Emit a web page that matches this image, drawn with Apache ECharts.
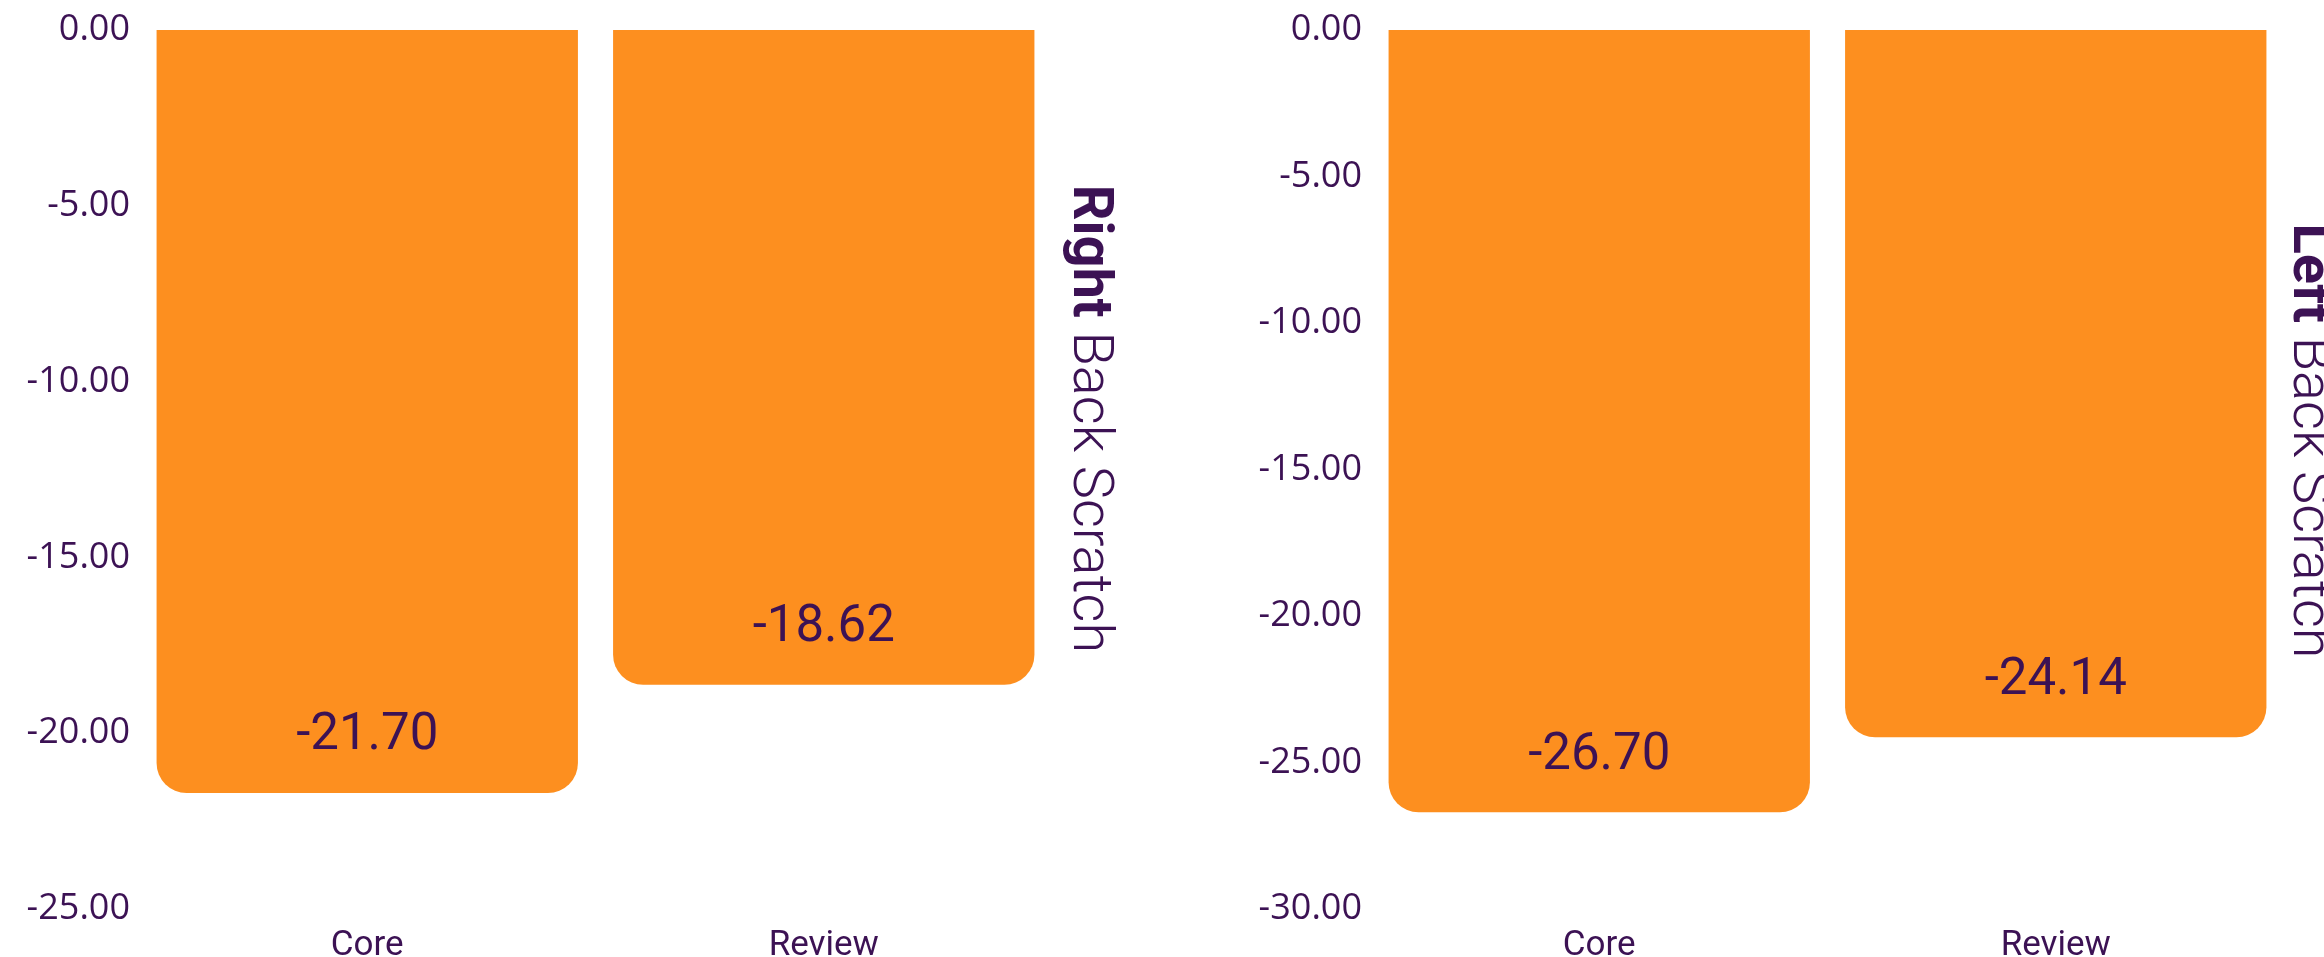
<!DOCTYPE html>
<html>
<head>
<meta charset="utf-8">
<script src="https://cdn.jsdelivr.net/npm/echarts@6/dist/echarts.min.js"></script>
<style>
  html, body { margin: 0; padding: 0; background: #fff; }
  #chart { width: 2324px; height: 957px; }
</style>
</head>
<body>
<div id="chart"></div>
<script>
// data
const categories = ['Core', 'Review'];
const rightBackValues = [-21.70, -18.62];
const leftBackValues = [-26.70, -24.14];
const rightAxisMin = -25;
const leftAxisMin = -30;
const titles = [['Right', 'Back Scratch'], ['Left', 'Back Scratch']];

const purple = '#3c1254';
const orange = '#fd8f1f';

let chart = echarts.init(document.getElementById('chart'));

function yAxis(gridIndex, min) {
  return {
    type: 'value',
    gridIndex,
    min,
    max: 0,
    interval: 5,
    axisLine: { show: false },
    axisTick: { show: false },
    splitLine: { show: false },
    axisLabel: {
      color: purple,
      fontFamily: 'Open Sans',
      fontSize: 36,
      margin: 9,
      formatter: (v) => v.toFixed(2),
    },
  };
}

function xAxis(gridIndex) {
  return {
    type: 'category',
    gridIndex,
    data: categories,
    axisLine: { show: false, onZero: false },
    axisTick: { show: false },
    axisLabel: {
      color: purple,
      fontFamily: 'Roboto',
      fontSize: 35,
      margin: 20,
    },
  };
}

function barSeries(index, data) {
  return {
    type: 'bar',
    xAxisIndex: index,
    yAxisIndex: index,
    data,
    barCategoryGap: '7.7%',
    itemStyle: { color: orange, borderRadius: [0, 0, 30, 30] },
    label: {
      show: true,
      position: 'insideBottom',
      distance: 31,
      color: purple,
      fontFamily: 'Roboto',
      fontSize: 51,
      formatter: (p) => p.value.toFixed(2),
    },
  };
}

function sideTitle(parts, x, y) {
  return {
    type: 'text',
    x,
    y,
    rotation: -Math.PI / 2,
    style: {
      text: '{b|' + parts[0] + '} ' + parts[1],
      fill: purple,
      font: '300 56px Roboto',
      align: 'center',
      verticalAlign: 'middle',
      rich: {
        b: { fontWeight: 'bold', fontSize: 56, fontFamily: 'Roboto', fill: purple },
      },
    },
  };
}

let options = {
  backgroundColor: '#ffffff',
  animation: false,
  grid: [
    { left: 139, right: 1272, top: 30, bottom: 48, containLabel: false, outerBoundsMode: 'none' },
    { left: 1371, right: 40, top: 30, bottom: 48, containLabel: false, outerBoundsMode: 'none' },
  ],
  xAxis: [xAxis(0), xAxis(1)],
  yAxis: [yAxis(0, rightAxisMin), yAxis(1, leftAxisMin)],
  series: [barSeries(0, rightBackValues), barSeries(1, leftBackValues)],
  graphic: [
    sideTitle(titles[0], 1088, 419),
    sideTitle(titles[1], 2308, 441),
  ],
};

chart.setOption(options);
</script>
</body>
</html>
